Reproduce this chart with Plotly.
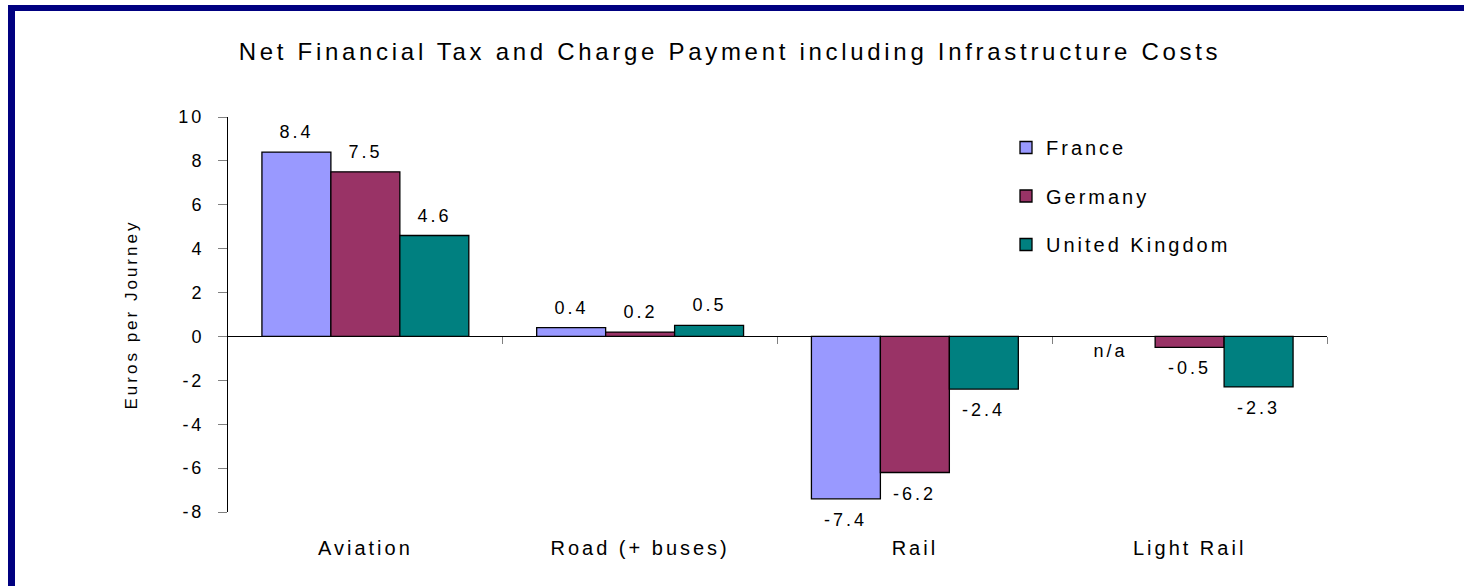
import plotly.graph_objects as go

# ---------------- data ----------------
categories = ["Aviation", "Road (+ buses)", "Rail", "Light Rail"]
series_names = ["France", "Germany", "United Kingdom"]
france = [8.4, 0.4, -7.4, None]
germany = [7.5, 0.2, -6.2, -0.5]
united_kingdom = [4.6, 0.5, -2.4, -2.3]
series_values = [france, germany, united_kingdom]
series_colors = ["#9999FF", "#993366", "#008080"]
y_tick_values = [-8, -6, -4, -2, 0, 2, 4, 6, 8, 10]
y_tick_labels = [str(v) for v in y_tick_values]
category_boundaries = [0.5, 1.5, 2.5, 3.5]
missing_label = "n/a"
title_text = "Net Financial Tax and Charge Payment including Infrastructure Costs"
y_title = "Euros per Journey"

# ---------------- geometry / style ----------------
W, H = 1464, 586
ML, MR, MT, MB = 228, 137, 117, 74
PW, PH = W - ML - MR, H - MT - MB
FONT = "Liberation Sans, Arial, Helvetica, sans-serif"
BAR_PX = 69  # approximate pixel width of one bar


def px_to_paper_x(px):
    return (px - ML) / PW


def px_to_paper_y(py):
    return (H - MB - py) / PH


fig = go.Figure()

for i, (name, vals, col) in enumerate(zip(series_names, series_values, series_colors)):
    fig.add_trace(go.Bar(
        x=categories, y=vals, name=name, legendgroup=name,
        marker=dict(color=col, line=dict(color="black", width=1.3)),
        hoverinfo="skip",
    ))

# dummy trace so the boundary-tick axis is drawn
fig.add_trace(go.Scatter(x=[None], y=[None], xaxis="x2", yaxis="y",
                         showlegend=False, hoverinfo="skip", mode="markers"))

# data labels
annotations = []
for i, vals in enumerate(series_values):
    for cat, v in zip(categories, vals):
        if v is None:
            annotations.append(dict(
                x=cat, y=0, xref="x", yref="y", text=missing_label,
                showarrow=False, xshift=(i - 1) * BAR_PX - 10, yshift=-15,
                font=dict(size=18, color="black", family=FONT),
                xanchor="center", yanchor="middle"))
            continue
        annotations.append(dict(
            x=cat, y=v, xref="x", yref="y", text=f"{v:.1f}",
            showarrow=False, xshift=(i - 1) * BAR_PX,
            yshift=20 if v >= 0 else -21,
            font=dict(size=18, color="black", family=FONT),
            xanchor="center", yanchor="middle"))

# navy frame (top and left edges)
border_col = "#000080"
shapes = [
    dict(type="rect", xref="paper", yref="paper",
         x0=px_to_paper_x(8), x1=px_to_paper_x(W + 5),
         y0=px_to_paper_y(11), y1=px_to_paper_y(5),
         fillcolor=border_col, line=dict(width=0), layer="above"),
    dict(type="rect", xref="paper", yref="paper",
         x0=px_to_paper_x(8), x1=px_to_paper_x(15),
         y0=px_to_paper_y(H + 5), y1=px_to_paper_y(5),
         fillcolor=border_col, line=dict(width=0), layer="above"),
]

zero_pos = (0 - y_tick_values[0]) / (y_tick_values[-1] - y_tick_values[0])

fig.update_layout(
    width=W, height=H,
    margin=dict(l=ML, r=MR, t=MT, b=MB, autoexpand=False),
    paper_bgcolor="white", plot_bgcolor="white",
    font=dict(family=FONT, color="black"),
    barmode="group", bargap=0.247, bargroupgap=0,
    title=dict(text=title_text, x=730 / W, xref="container", xanchor="center",
               y=1 - 52 / H, yref="container", yanchor="middle",
               font=dict(size=24, color="black", family=FONT)),
    xaxis=dict(type="category", showline=False, ticks="", showgrid=False,
               zeroline=False, tickfont=dict(size=20, color="black"),
               ticklabelstandoff=22),
    xaxis2=dict(overlaying="x", anchor="free", position=zero_pos,
                range=[-0.5, 3.5], tickvals=category_boundaries,
                ticks="outside", ticklen=7, tickcolor="#808080", tickwidth=1,
                showticklabels=False, showline=False, showgrid=False,
                zeroline=False),
    yaxis=dict(range=[y_tick_values[0], y_tick_values[-1]],
               tickvals=y_tick_values, ticktext=y_tick_labels,
               showline=True, linecolor="black", linewidth=1,
               ticks="outside", ticklen=9, tickcolor="#808080", tickwidth=1,
               showgrid=False, zeroline=True, zerolinecolor="black", zerolinewidth=1,
               tickfont=dict(size=18, color="black"), ticklabelstandoff=10,
               title=dict(text=y_title, font=dict(size=17, color="black"), standoff=42)),
    legend=dict(x=px_to_paper_x(1006), xanchor="left",
                y=px_to_paper_y(128), yanchor="top",
                font=dict(size=20, color="black"),
                tracegroupgap=19.5, bgcolor="rgba(0,0,0,0)"),
    annotations=annotations,
    shapes=shapes,
    showlegend=True,
)

post = """
document.body.style.margin = '0';
document.body.style.padding = '0';
var gd = document.getElementById('{plot_id}');
function ls(){
  gd.querySelectorAll('text').forEach(function(t){
    t.style.letterSpacing = t.classList.contains('gtitle') ? '3.7px' : '3px';
  });
  gd.querySelectorAll('.legend, .legend *').forEach(function(e){ e.removeAttribute('clip-path'); });
}
ls(); setTimeout(ls, 30); setTimeout(ls, 300);
if (gd.on) { gd.on('plotly_afterplot', ls); }
"""

fig.write_html("out.html", post_script=post, config={"displayModeBar": False})
